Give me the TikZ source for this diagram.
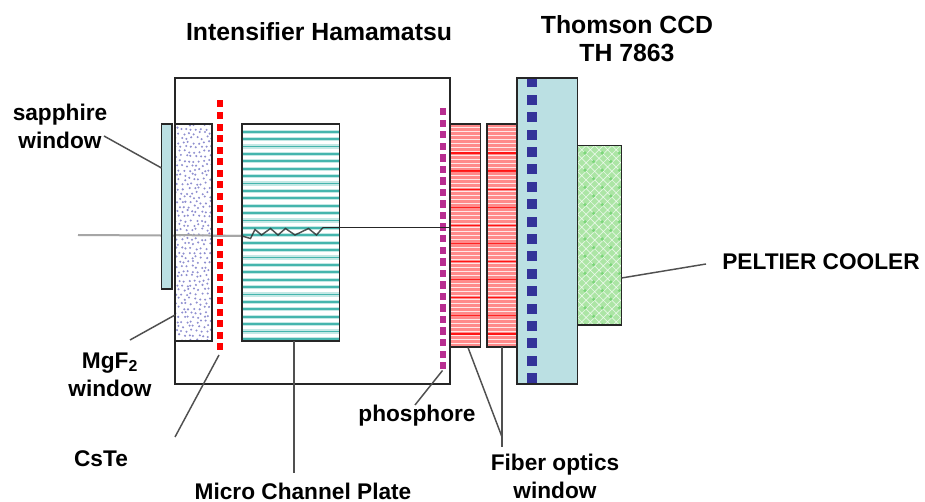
\documentclass[tikz,border=0pt]{standalone}
\usepackage{fontspec}
\setmainfont{Liberation Sans}
\usetikzlibrary{fit}
\definecolor{edge}{HTML}{262626}
\definecolor{conn}{HTML}{505050}
\definecolor{ray}{HTML}{A6A6A6}
\definecolor{paleblue}{HTML}{BBE0E3}
\definecolor{teal}{HTML}{45B5AD}
\definecolor{tealpale}{HTML}{C4E8E5}
\definecolor{dotblue}{HTML}{6A6AC0}
\definecolor{coral}{HTML}{FF8A8A}
\definecolor{mint}{HTML}{ACE5A5}
\definecolor{mintdark}{HTML}{7CD67A}
\definecolor{magentadot}{HTML}{B82E90}
\definecolor{navydot}{HTML}{333399}
\tikzset{
  x=0.75pt,y=-0.75pt,
  part/.style={fit={#1},inner sep=0pt,outer sep=0pt},
  outline/.style={draw=edge,line width=1.3pt},
  connector/.style={draw=conn,line width=1.1pt},
  label/.style={font=\bfseries\fontsize{17}{18}\selectfont,text=black,inner sep=0pt,align=center},
  biglabel/.style={font=\bfseries\fontsize{18.6}{18}\selectfont,text=black,inner sep=0pt,align=center}
}
\newcommand{\outlinepart}[1]{\draw[outline] (#1.south west) rectangle (#1.north east);}
\begin{document}
\begin{tikzpicture}
\useasboundingbox (0,0) rectangle (925,502);
\fill[white] (0,0) rectangle (925,502);
% ray behind the windows
\coordinate (rayin) at (78,235);
\coordinate (raymid) at (242,236);
\coordinate (rayzig) at (323,227.5);
\coordinate (rayend) at (450,227.5);
\draw[ray,line width=1.5pt] (rayin) -- (raymid);
% outer tube
\node[part={(175,78)(450,384)}] (tube) {};
\outlinepart{tube}
% sapphire
\node[part={(161.5,124)(172,289)},fill=paleblue] (sapphire) {};
\outlinepart{sapphire}
% MgF2
\node[part={(175,124)(212,341)},fill=white] (mgf) {};
\pgfmathsetseed{7}
\begin{scope}
\clip (175,124) rectangle (212,341);
\foreach \i in {0,...,48}{
 \foreach \j in {0,...,8}{
  \pgfmathsetmacro{\px}{174+\j*5+mod(\i,2)*2.5+rand*1.4}
  \pgfmathsetmacro{\py}{124+\i*4.6+rand*1.4}
  \fill[dotblue,opacity=0.75] (\px,\py) circle[radius=1.15];
 }}
\end{scope}
\draw[ray,line width=1.5pt] (mgf.west |- rayin) -- (raymid);
\outlinepart{mgf}
% MCP
\node[part={(242,124)(339.5,341)},fill=white] (mcp) {};
\foreach \i in {0,...,28}{
  \pgfmathsetmacro{\yy}{131.7+\i*7.4}
  \draw[tealpale,line width=3.2pt] (243,\yy) -- (339,\yy);
  \draw[teal,line width=1.4pt] (243,\yy) -- (339,\yy);
}
\outlinepart{mcp}
% CsTe dots
\foreach \i in {0,...,21}{
  \pgfmathsetmacro{\yy}{104+\i*11.57}
  \fill[red] (216.5,\yy-3.5) rectangle (223,\yy+3.5);
}
\coordinate (cstetop) at (219,355);
% phosphore dots
\foreach \i in {0,...,22}{
  \pgfmathsetmacro{\yy}{111.7+\i*11.55}
  \fill[magentadot] (439.7,\yy-3.7) rectangle (446,\yy+3.7);
}
\coordinate (phostop) at (442.5,370.5);
% fibers
\foreach \n/\xa/\xb in {fiberA/450.5/480.5,fiberB/487/517}{
  \node[part={(\xa,124)(\xb,347)},fill=coral] (\n) {};
  \foreach \i in {0,...,54}{
    \pgfmathsetmacro{\yy}{127+\i*4}
    \draw[white,line width=0.6pt,opacity=0.8] (\xa,\yy) -- (\xb,\yy);
  }
  \foreach \i in {0,...,10}{
    \pgfmathsetmacro{\yy}{153+\i*18.1}
    \draw[red,line width=0.9pt,opacity=0.85] (\xa,\yy) -- (\xb,\yy);
  }
  \outlinepart{\n}
}
% CCD
\node[part={(517,78)(577.5,384)},fill=paleblue] (ccd) {};
\foreach \i in {0,...,17}{
  \pgfmathsetmacro{\yy}{82.5+\i*17.4}
  \pgfmathsetmacro{\ya}{max(\yy-5,78.5)}
  \fill[navydot] (526.5,\ya) rectangle (536.5,\yy+5);
}
\outlinepart{ccd}
% Peltier
\node[part={(577.5,145.5)(621.5,325)},fill=mint] (peltier) {};
\begin{scope}
\clip (577.5,145.5) rectangle (621.5,325);
\foreach \i in {-25,...,25}{
  \draw[white,line width=0.5pt,opacity=0.7] (577.5+\i*8.6,145.5) -- ++(180,180);
  \draw[white,line width=0.5pt,opacity=0.7] (577.5+\i*8.6,145.5) -- ++(-180,180);
}
\foreach \i in {0,...,3}{
 \foreach \j in {0,...,11}{
  \fill[mintdark] (585+\i*17.2,153+\j*17.2) circle[radius=1.8];
  \fill[mintdark] (593.6+\i*17.2,161.6+\j*17.2) circle[radius=1.8];
 }}
\end{scope}
\outlinepart{peltier}
% ray inside
\draw[edge,line width=1.1pt,opacity=0.8] (raymid) -- (250.5,238.5) -- (255,229.5) -- (261.5,235) -- (270.5,228.5) -- (278,235) -- (285.5,228.5) -- (295,235) -- (308.5,228.5) -- (316.5,235) -- (rayzig);
\draw[edge,line width=1.1pt] (rayzig) -- (rayend);
% labels
\node[biglabel] (ltitle) at (319,31.5) {Intensifier Hamamatsu};
\node[biglabel] (lthomson) at (627,39) {Thomson CCD\\[3pt]TH 7863};
\node[label] (lsapphire) at (60,126.5) {sapphire\\[3pt]window};
\node[label] (lmgf) at (110,374.5) {MgF\textsubscript{2}\\[3pt]window};
\node[label] (lcste) at (101,459) {CsTe};
\node[label] (lmcp) at (303,491) {Micro Channel Plate};
\node[label] (lphos) at (417,416) {phosphore};
\node[label] (lfiber) at (555,476.5) {Fiber optics\\[3pt]window};
\node[label] (lpeltier) at (821,262) {PELTIER COOLER};
% connectors
\coordinate (c1a) at (104,136); \coordinate (c1b) at (161.5,168);
\coordinate (c2a) at (130,340); \coordinate (c2b) at (175,315);
\coordinate (c3a) at (175,437);
\coordinate (c4a) at (294,341); \coordinate (c4b) at (294,473);
\coordinate (c5a) at (415,405);
\coordinate (c6a) at (468,347.5); \coordinate (c6b) at (502,437);
\coordinate (c7a) at (502,347.5); \coordinate (c7b) at (502,447);
\coordinate (c8a) at (621.5,278); \coordinate (c8b) at (706,264);
\draw[connector] (c1a) -- (c1b);
\draw[connector] (c2a) -- (c2b);
\draw[connector] (c3a) -- (cstetop);
\draw[connector] (c4a) -- (c4b);
\draw[connector] (c5a) -- (phostop);
\draw[connector] (c6a) -- (c6b);
\draw[connector] (c7a) -- (c7b);
\draw[connector] (c8a) -- (c8b);
\end{tikzpicture}
\end{document}
